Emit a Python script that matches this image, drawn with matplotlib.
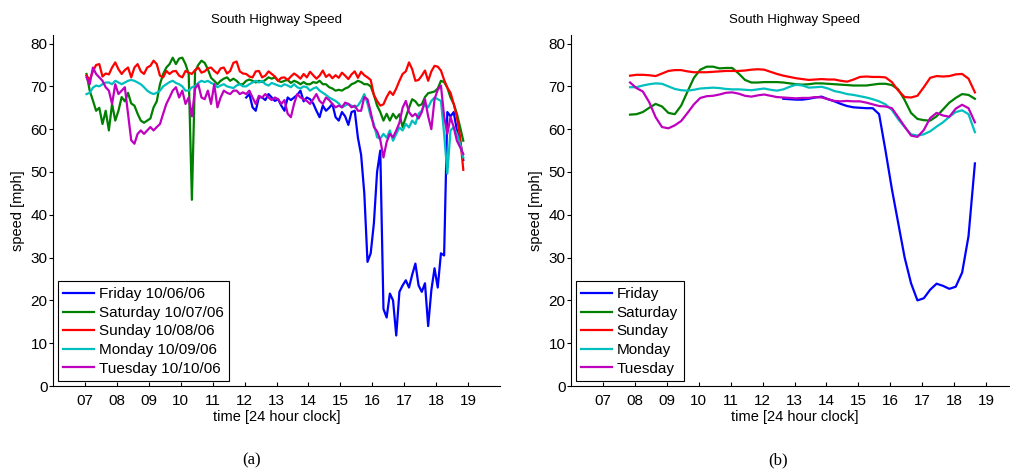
import numpy as np
import matplotlib
matplotlib.use("Agg")
import matplotlib.pyplot as plt

plt.rcParams["font.family"] = ["Liberation Sans", "DejaVu Sans"]

# ---- panel (a): raw speeds, one sample every 0.1 h starting 07:03 ----
t0_a = 7.05
fri_start_a = 12.05

fri_a = [
    67.4, 68.2, 65.1, 64.3, 67.5, 67.4, 66.8, 68.2, 67.4, 66.6,  # 12
    67.0, 65.5, 64.3, 67.4, 66.8, 67.4, 68.0, 69.0, 66.5, 67.4,  # 13
    67.0, 66.0, 64.3, 62.8, 65.5, 64.3, 65.0, 65.9, 62.8, 62.0,  # 14
    64.0, 63.0, 61.0, 64.0, 64.3, 58.0, 54.0, 45.0, 29.0, 31.0,  # 15
    38.0, 50.0, 55.0, 18.0, 16.0, 21.6, 20.0, 11.8, 22.0, 23.5,  # 16
    24.7, 23.0, 26.0, 28.6, 23.5, 22.0, 24.0, 14.0, 22.4, 27.5,  # 17
    23.0, 31.0, 30.5, 64.0, 63.0, 64.0, 59.7, 57.3, 52.8,        # 18
]
sat_a = [
    72.9, 69.0, 66.7, 64.3, 65.0, 61.2, 64.3, 59.7, 65.9, 62.0,  # 07
    64.3, 67.5, 66.5, 68.5, 66.0, 65.5, 63.6, 62.0, 61.5, 62.0,  # 08
    62.5, 65.1, 66.5, 70.5, 72.9, 74.4, 75.2, 76.7, 75.2, 76.5,  # 09
    76.7, 75.2, 72.9, 43.5, 73.5, 75.0, 76.0, 75.5, 74.0, 72.0,  # 10
    71.3, 70.5, 71.3, 71.8, 72.1, 71.3, 71.8, 71.3, 70.5, 70.5,  # 11
    71.3, 71.6, 71.3, 70.9, 71.3, 71.0, 71.5, 72.1, 71.8, 72.1,  # 12
    71.3, 71.0, 71.3, 71.5, 70.8, 71.3, 71.0, 70.5, 71.0, 70.5,  # 13
    70.5, 71.0, 70.8, 71.3, 70.5, 70.5, 69.8, 69.5, 69.0, 69.2,  # 14
    69.0, 69.5, 69.8, 70.5, 70.8, 71.3, 71.0, 70.5, 70.5, 70.0,  # 15
    68.0, 65.5, 64.0, 62.0, 63.6, 62.0, 63.6, 62.5, 63.5, 60.5,  # 16
    62.8, 65.0, 67.0, 66.5, 65.5, 65.8, 67.5, 68.4, 68.6, 68.8,  # 17
    69.5, 71.3, 71.0, 69.7, 67.4, 65.9, 63.6, 60.5, 57.3,        # 18
]
sun_a = [
    72.5, 71.5, 73.5, 75.0, 75.2, 72.3, 73.0, 72.8, 74.4, 75.6,  # 07
    74.0, 72.9, 73.8, 74.4, 72.1, 74.4, 75.2, 73.5, 72.9, 74.4,  # 08
    74.8, 76.0, 75.2, 72.5, 72.1, 73.6, 72.9, 73.5, 73.6, 72.5,  # 09
    72.1, 73.6, 73.2, 72.9, 73.8, 74.4, 73.2, 73.5, 74.2, 74.4,  # 10
    73.6, 73.0, 74.2, 74.4, 73.0, 73.6, 75.5, 75.8, 73.5, 73.0,  # 11
    72.9, 72.3, 72.1, 73.5, 73.6, 72.1, 72.5, 73.5, 72.9, 72.3,  # 12
    71.3, 72.0, 72.1, 71.5, 72.3, 73.0, 72.5, 71.8, 72.9, 72.1,  # 13
    73.4, 72.6, 71.8, 72.5, 73.7, 72.2, 72.8, 71.9, 72.6, 72.0,  # 14
    73.2, 72.5, 71.7, 72.8, 73.5, 72.0, 73.4, 72.6, 72.1, 71.5,  # 15
    68.0, 66.6, 65.5, 65.8, 67.5, 68.8, 68.0, 69.5, 71.3, 72.9,  # 16
    73.5, 75.6, 74.0, 71.3, 71.5, 72.5, 73.7, 71.3, 73.5, 74.8,  # 17
    74.6, 73.7, 71.5, 69.7, 68.5, 65.9, 62.8, 58.3, 50.5,        # 18
]
mon_a = [
    68.2, 68.5, 69.7, 70.2, 70.0, 70.5, 70.9, 70.9, 70.5, 71.3,  # 07
    70.9, 70.5, 70.9, 71.3, 71.5, 71.3, 70.9, 70.5, 69.8, 69.0,  # 08
    68.5, 68.2, 68.5, 69.0, 70.0, 70.5, 71.0, 71.3, 70.8, 70.5,  # 09
    70.0, 69.0, 69.0, 69.8, 70.0, 70.8, 71.3, 71.0, 71.3, 70.8,  # 10
    70.5, 69.8, 70.2, 70.5, 70.0, 69.8, 69.6, 70.2, 70.5, 70.0,  # 11
    70.0, 70.5, 70.9, 71.3, 70.9, 71.3, 70.5, 70.2, 70.8, 70.5,  # 12
    70.2, 70.0, 70.5, 70.2, 69.8, 70.5, 69.8, 69.5, 70.0, 69.8,  # 13
    69.0, 69.5, 69.8, 69.0, 68.5, 68.0, 67.4, 67.0, 66.6, 66.0,  # 14
    65.1, 65.5, 65.9, 65.5, 65.1, 65.5, 66.6, 68.2, 66.0, 63.0,  # 15
    61.2, 58.1, 57.8, 58.9, 58.0, 59.7, 57.3, 58.9, 60.4, 59.7,  # 16
    61.2, 60.4, 62.0, 61.2, 63.6, 64.3, 65.9, 65.1, 66.6, 67.4,  # 17
    67.0, 66.6, 58.9, 49.6, 59.7, 60.5, 58.9, 56.5, 53.4,        # 18
]
tue_a = [
    72.1, 70.5, 74.4, 72.9, 72.1, 71.3, 69.8, 69.0, 65.9, 70.5,  # 07
    68.2, 69.0, 69.8, 63.6, 57.4, 56.6, 58.9, 59.7, 58.9, 59.7,  # 08
    60.5, 59.7, 60.5, 61.2, 63.6, 65.9, 67.4, 69.0, 69.8, 67.4,  # 09
    69.0, 65.9, 67.4, 63.0, 69.5, 70.5, 67.4, 67.0, 69.0, 65.9,  # 10
    70.5, 65.1, 67.4, 69.0, 68.5, 68.2, 69.0, 69.0, 68.2, 68.6,  # 11
    68.2, 69.0, 67.4, 65.9, 67.8, 67.4, 68.2, 67.4, 66.8, 67.4,  # 12
    67.0, 65.9, 66.8, 63.6, 62.8, 65.9, 68.2, 67.4, 67.0, 66.6,  # 13
    65.9, 67.0, 68.2, 66.6, 65.9, 67.4, 66.8, 65.9, 65.1, 65.5,  # 14
    65.1, 66.2, 65.9, 65.1, 65.5, 64.3, 64.3, 67.5, 67.0, 64.0,  # 15
    60.5, 59.5, 57.5, 53.4, 57.0, 58.9, 58.1, 59.7, 61.5, 65.0,  # 16
    66.6, 64.0, 63.0, 63.6, 62.5, 64.0, 67.0, 63.0, 60.0, 67.0,  # 17
    69.2, 70.2, 63.0, 58.9, 62.8, 60.5, 57.3, 55.8, 54.2,        # 18
]

# ---- panel (b): smoothed speeds, one sample every 0.2 h starting 07:51 ----
t0_b = 7.85
fri_start_b = 12.65

fri_b = [67.1, 67.0, 66.9, 66.9, 67.1, 67.4, 67.6, 67.0, 66.5, 65.9,
         65.4, 65.1, 65.0, 64.9, 64.9, 63.5, 55.0, 46.0, 38.0, 30.0,
         24.0, 20.0, 20.5, 22.5, 23.9, 23.4, 22.7, 23.2, 26.5, 35.0, 52.0]
sat_b = [63.4, 63.5, 64.0, 65.0, 65.9, 65.3, 63.8, 63.5, 65.5, 68.8,
         72.0, 73.9, 74.6, 74.6, 74.2, 74.3, 74.3, 73.0, 71.5, 70.9,
         70.9, 71.0, 71.0, 71.0, 70.9, 70.7, 70.5, 70.4, 70.5, 70.7,
         70.7, 70.6, 70.5, 70.4, 70.3, 70.2, 70.2, 70.2, 70.4, 70.6,
         70.6, 70.3, 69.3, 66.8, 63.8, 62.4, 62.1, 62.0, 63.0, 64.6,
         66.2, 67.3, 68.2, 68.0, 67.1]
sun_b = [72.5, 72.7, 72.7, 72.6, 72.4, 73.0, 73.6, 73.8, 73.8, 73.5,
         73.3, 73.3, 73.3, 73.4, 73.5, 73.6, 73.6, 73.6, 73.7, 73.9,
         74.0, 73.9, 73.4, 72.9, 72.5, 72.2, 71.9, 71.7, 71.5, 71.6,
         71.7, 71.6, 71.6, 71.3, 71.1, 71.6, 72.2, 72.3, 72.2, 72.2,
         72.1, 71.0, 69.0, 67.5, 67.4, 67.8, 69.8, 72.0, 72.4, 72.3,
         72.4, 72.8, 72.9, 71.8, 68.6]
mon_b = [69.8, 69.8, 70.2, 70.5, 70.7, 70.6, 70.0, 69.4, 69.1, 69.0,
         69.2, 69.5, 69.6, 69.7, 69.6, 69.4, 69.3, 69.3, 69.2, 69.1,
         69.3, 69.5, 69.2, 69.0, 69.3, 69.9, 70.4, 70.2, 69.7, 69.8,
         69.9, 69.5, 68.9, 68.6, 68.2, 68.0, 67.7, 67.4, 67.0, 66.5,
         65.8, 64.5, 62.3, 60.5, 58.8, 58.5, 58.8, 59.5, 60.6, 61.6,
         62.9, 64.0, 64.4, 63.5, 59.3]
tue_b = [70.9, 69.6, 68.8, 66.3, 62.8, 60.5, 60.2, 60.9, 61.9, 63.8,
         65.8, 67.3, 67.7, 67.8, 68.1, 68.5, 68.6, 68.3, 67.8, 67.6,
         67.9, 68.1, 67.8, 67.5, 67.4, 67.3, 67.2, 67.3, 67.3, 67.5,
         67.4, 67.0, 66.6, 66.5, 66.6, 66.5, 66.5, 66.2, 65.8, 65.4,
         65.3, 64.9, 62.8, 60.6, 58.5, 58.2, 59.8, 62.6, 63.8, 63.2,
         62.9, 64.8, 65.7, 64.9, 61.6]

colors = [(0, 0, 1), (0, 0.5, 0), (1, 0, 0), (0, 0.75, 0.75), (0.75, 0, 0.75)]
labels_a = ["Friday 10/06/06", "Saturday 10/07/06", "Sunday 10/08/06",
            "Monday 10/09/06", "Tuesday 10/10/06"]
labels_b = ["Friday", "Saturday", "Sunday", "Monday", "Tuesday"]
hour_ticks = list(range(7, 20))
hour_labels = ["%02d" % h for h in hour_ticks]


def times(start, step, vals):
    return start + step * np.arange(len(vals))


fig = plt.figure(figsize=(10.10, 4.74), dpi=100)
ax1 = fig.add_axes([53 / 1010, 88 / 474, 447 / 1010, 351 / 474])
ax2 = fig.add_axes([571 / 1010, 88 / 474, 447 / 1010, 351 / 474])

series_a = [(fri_start_a, fri_a), (t0_a, sat_a), (t0_a, sun_a), (t0_a, mon_a), (t0_a, tue_a)]
series_b = [(fri_start_b, fri_b), (t0_b, sat_b), (t0_b, sun_b), (t0_b, mon_b), (t0_b, tue_b)]

for (st, v), c, lab in zip(series_a, colors, labels_a):
    ax1.plot(times(st, 0.1, v), v, color=c, lw=1.6, label=lab)
for (st, v), c, lab in zip(series_b, colors, labels_b):
    ax2.plot(times(st, 0.2, v), v, color=c, lw=1.6, label=lab)

for ax, labs in ((ax1, labels_a), (ax2, labels_b)):
    ax.set_xlim(6, 20)
    ax.set_ylim(0, 82)
    ax.set_xticks(hour_ticks)
    ax.set_xticklabels(hour_labels)
    ax.set_yticks(range(0, 81, 10))
    ax.spines["top"].set_visible(False)
    ax.spines["right"].set_visible(False)
    ax.spines["left"].set_linewidth(0.8)
    ax.spines["bottom"].set_linewidth(0.8)
    ax.tick_params(axis="x", direction="in", length=3, width=0.8, labelsize=11, pad=6)
    ax.tick_params(axis="y", direction="out", length=3, width=0.8, labelsize=11, pad=1)
    ax.set_title("South Highway Speed", fontsize=9.5, pad=9)
    ax.set_xlabel("time [24 hour clock]", fontsize=10.5, labelpad=1)
    ax.set_ylabel("speed [mph]", fontsize=10.5, labelpad=4)
    leg = ax.legend(loc="lower left", bbox_to_anchor=(0, 0), borderaxespad=0.3,
                    fontsize=11, handlelength=2.0, handletextpad=0.3,
                    labelspacing=0.3, borderpad=0.38, fancybox=False,
                    framealpha=1, edgecolor="black")
    leg.get_frame().set_linewidth(0.8)

fig.text(252 / 1010, 1 - 460 / 474, "(a)", ha="center", va="center",
         fontsize=12, family="Liberation Serif")
fig.text(778 / 1010, 1 - 460 / 474, "(b)", ha="center", va="center",
         fontsize=12, family="Liberation Serif")

fig.savefig("out.png", dpi=100)
